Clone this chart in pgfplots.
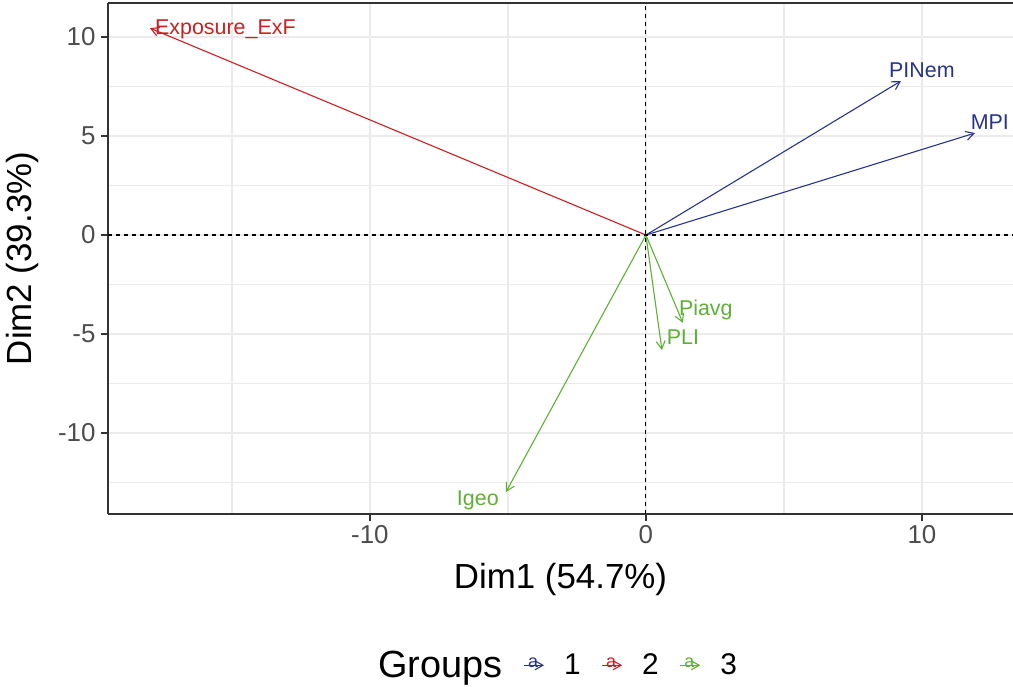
\documentclass[border=0pt]{standalone}
\usepackage{fontspec}
\setmainfont{Liberation Sans}
\usepackage{pgfplots}
\pgfplotsset{compat=1.18}
\usetikzlibrary{arrows.meta}
\definecolor{grpA}{RGB}{40,52,140}
\definecolor{grpB}{RGB}{205,30,35}
\definecolor{grpC}{RGB}{95,175,55}
\definecolor{gridgray}{RGB}{235,235,235}
\definecolor{tickgray}{RGB}{77,77,77}
\definecolor{framegray}{RGB}{51,51,51}
\begin{document}
\begin{tikzpicture}
\begin{axis}[
  at={(0,0)}, anchor=south west,
  scale only axis, width=905bp, height=511bp,
  xmin=-19.49, xmax=13.30, ymin=-14.09, ymax=11.72,
  axis x line*=bottom, axis y line*=left,
  axis line style={framegray, line width=1.6bp},
  xtick={-10,0,10}, minor xtick={-15,-5,5},
  ytick={-10,-5,0,5,10}, minor ytick={-12.5,-7.5,-2.5,2.5,7.5},
  grid=both,
  major grid style={gridgray, line width=2.4bp},
  minor grid style={gridgray, line width=1.2bp},
  tick align=outside, major tick length=7bp, minor tick length=0pt,
  every tick/.style={framegray, line width=1.6bp},
  /pgf/number format/assume math mode=true,
  ticklabel style={font=\fontsize{26}{26}\selectfont, text=tickgray},
  yticklabel style={xshift=-2bp},
  xticklabel style={yshift=-1bp},
  xlabel={Dim1 (54.7\%)}, ylabel={Dim2 (39.3\%)},
  label style={font=\fontsize{35}{35}\selectfont},
  xlabel style={at={(axis description cs:0.5,-0.129)}, anchor=center},
  ylabel style={at={(axis description cs:-0.095,0.5)}, anchor=center},
  legend style={at={(0.488,-0.296)}, anchor=center, draw=none, fill=none,
    font=\fontsize{30}{30}\selectfont, legend columns=4,
    nodes={inner xsep=3bp},
    /tikz/every odd column/.append style={column sep=16bp},
    /tikz/every even column/.append style={column sep=18bp}},
  legend image code/.code={
    \draw[#1] (0bp,0bp) -- (20bp,0bp);
    \node[text=.,font=\fontsize{18}{18}\selectfont, inner sep=0pt] at (9bp,2bp) {a};
  },
  every axis plot/.append style={line width=1.1bp, -{Straight Barb[length=8bp,width=9bp]}},
]
\addlegendimage{empty legend}
\addlegendentry{\fontsize{38}{38}\selectfont Groups}
\addplot[grpA] coordinates {(0,0) (9.24,7.78)};
\addlegendentry{1}
\addplot[grpB] coordinates {(0,0) (-17.97,10.45)};
\addlegendentry{2}
\addplot[grpC] coordinates {(0,0) (1.34,-4.44)};
\addlegendentry{3}
\addplot[grpA, forget plot] coordinates {(0,0) (11.92,5.15)};
\addplot[grpC, forget plot] coordinates {(0,0) (0.58,-5.81)};
\addplot[grpC, forget plot] coordinates {(0,0) (-5.07,-12.98)};
\draw[black, line width=1.1bp, dash pattern=on 4bp off 4bp] (axis cs:0,-14.09) -- (axis cs:0,11.72);
\draw[black, line width=1.1bp, dash pattern=on 4bp off 4bp] (axis cs:-19.49,0) -- (axis cs:13.30,0);
\draw[framegray, line width=1.6bp] (rel axis cs:0,1) -- (rel axis cs:1,1);
\begin{scope}[every node/.style={font=\fontsize{21.5}{21.5}\selectfont, inner sep=0pt}]
\node[grpB, anchor=west] at (axis cs:-17.79,10.4) {Exposure\_ExF};
\node[grpA] at (axis cs:10.0,8.33) {PINem};
\node[grpA] at (axis cs:12.46,5.71) {MPI};
\node[grpC] at (axis cs:2.17,-3.79) {Piavg};
\node[grpC] at (axis cs:1.34,-5.15) {PLI};
\node[grpC] at (axis cs:-6.09,-13.38) {Igeo};
\end{scope}
\end{axis}
\pgfresetboundingbox
\useasboundingbox (-108bp,-173bp) rectangle (905bp,514bp);
\end{tikzpicture}
\end{document}
